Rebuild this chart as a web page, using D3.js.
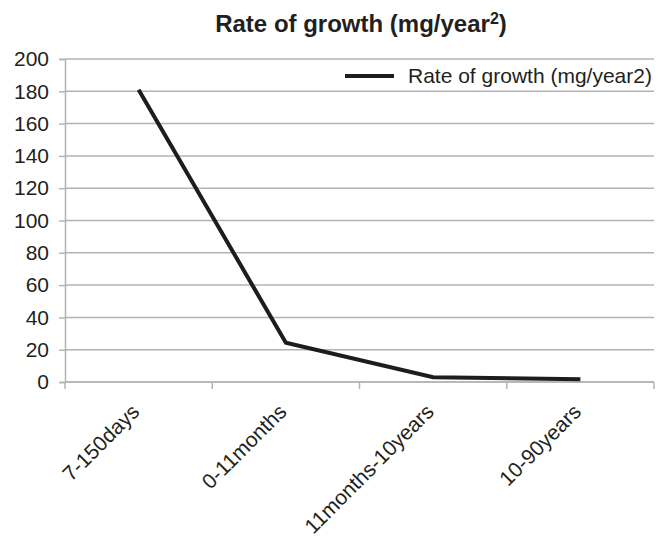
<!DOCTYPE html>
<html>
<head>
<meta charset="utf-8">
<script src="https://cdn.jsdelivr.net/npm/d3@7"></script>
<style>
    body { margin: 0; background: #fff; }
    text { font-family: "Liberation Sans", Arial, sans-serif; fill: #231f20; }
</style>
</head>
<body>
<div id="chart"></div>
<script>
// data
const categories = ["7-150days", "0-11months", "11months-10years", "10-90years"];
const growthRate = [181, 24.3, 2.9, 1.7];
const yTicks = [0, 20, 40, 60, 80, 100, 120, 140, 160, 180, 200];
const seriesName = "Rate of growth (mg/year2)";

const data = categories.map((c, i) => ({ cat: c, value: growthRate[i] }));

// Define Canvas
const margin = { top: 59, right: 11, bottom: 156, left: 65 },
    width = 665 - margin.left - margin.right,
    height = 538 - margin.top - margin.bottom;

const root = d3.select("#chart")
    .append("svg")
    .attr("width", 665)
    .attr("height", 538);

const svg = root.append("g")
    .attr("transform", `translate(${margin.left},${margin.top})`);

const gridColor = "#b3b3b3";

// scales
const xScale = d3.scaleBand().domain(categories).range([0, width]).padding(0);
const yScale = d3.scaleLinear().domain([0, 200]).range([height, 0]);

// gridlines
svg.selectAll(".grid")
    .data(yTicks)
    .enter()
    .append("line")
    .attr("class", "grid")
    .attr("x1", 0)
    .attr("x2", width)
    .attr("y1", d => yScale(d))
    .attr("y2", d => yScale(d))
    .attr("stroke", gridColor)
    .attr("stroke-width", 1.5);

// y axis
const yAxis = d3.axisLeft(yScale).tickValues(yTicks).tickSize(6).tickPadding(10);
const yAxisGroup = svg.append("g").attr("class", "y-axis").call(yAxis);
yAxisGroup.select(".domain").attr("stroke", gridColor).attr("stroke-width", 1.5);
yAxisGroup.selectAll(".tick line").attr("stroke", gridColor).attr("stroke-width", 1.5);
yAxisGroup.selectAll(".tick text")
    .attr("font-size", 21)
    .attr("font-family", "Liberation Sans, Arial, sans-serif")
    .attr("fill", "#231f20");

// x axis line and tick marks on band edges
svg.append("line")
    .attr("x1", 0).attr("x2", width)
    .attr("y1", height).attr("y2", height)
    .attr("stroke", gridColor).attr("stroke-width", 1.5);

const edges = categories.map(c => xScale(c)).concat([width]);
svg.selectAll(".xtick")
    .data(edges)
    .enter()
    .append("line")
    .attr("class", "xtick")
    .attr("x1", d => d).attr("x2", d => d)
    .attr("y1", height).attr("y2", height + 7)
    .attr("stroke", gridColor).attr("stroke-width", 1.5);

// rotated category labels
svg.selectAll(".xlabel")
    .data(categories)
    .enter()
    .append("text")
    .attr("class", "xlabel")
    .attr("text-anchor", "end")
    .attr("font-size", 21)
    .attr("transform", d => `translate(${xScale(d) + xScale.bandwidth() / 2 + 2},${height + 31}) rotate(-45)`)
    .text(d => d);

// the line
const line = d3.line()
    .x(d => xScale(d.cat) + xScale.bandwidth() / 2)
    .y(d => yScale(d.value));

svg.append("path")
    .datum(data)
    .attr("fill", "none")
    .attr("stroke", "#1e1c1d")
    .attr("stroke-width", 4)
    .attr("stroke-linejoin", "miter")
    .attr("d", line);

// legend
const legend = root.append("g").attr("transform", "translate(345,76)");
legend.append("line")
    .attr("x1", 0).attr("x2", 49)
    .attr("y1", 0).attr("y2", 0)
    .attr("stroke", "#1e1c1d")
    .attr("stroke-width", 4);
legend.append("text")
    .attr("x", 63)
    .attr("y", 0)
    .attr("dy", "0.35em")
    .attr("font-size", 21)
    .text(seriesName);

// title with superscript
const title = root.append("text")
    .attr("x", 361)
    .attr("y", 32)
    .attr("text-anchor", "middle")
    .attr("font-size", 24)
    .attr("font-weight", "bold");
title.append("tspan").text("Rate of growth (mg/year");
title.append("tspan").attr("baseline-shift", "super").attr("font-size", 16).text("2");
title.append("tspan").text(")");
</script>
</body>
</html>
